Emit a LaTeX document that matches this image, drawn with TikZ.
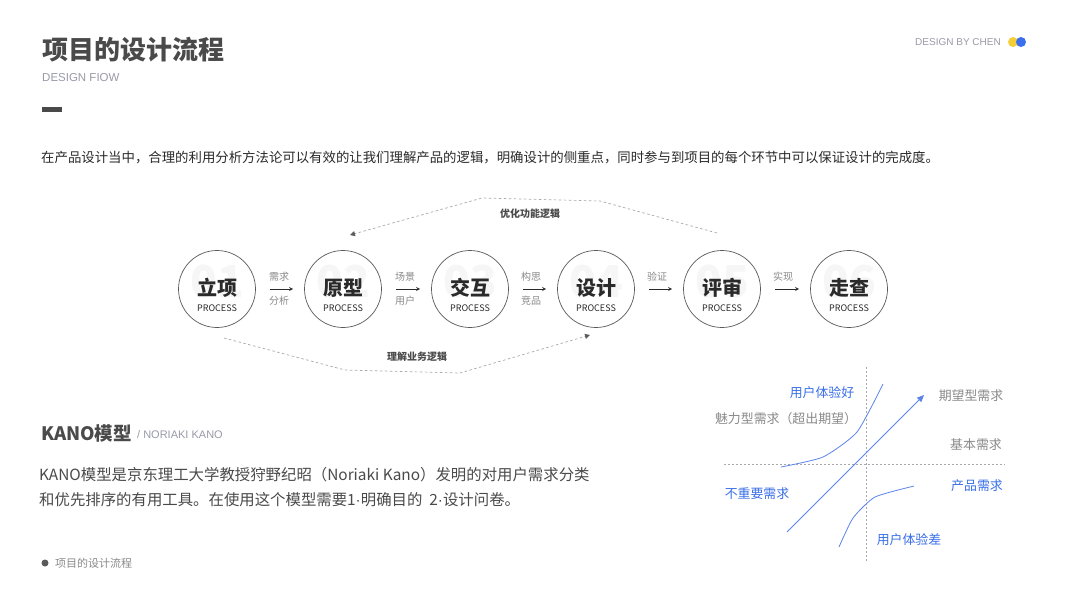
\documentclass[tikz,border=0pt]{standalone}
\usepackage{fontspec}
\setmainfont{Noto Sans CJK SC}
\newfontfamily\latinfont{Liberation Sans}
\usetikzlibrary{arrows.meta}

\definecolor{inkDark}{HTML}{2A2A2A}
\definecolor{inkMid}{HTML}{4A4A4A}
\definecolor{labelGray}{HTML}{8A8A8A}
\definecolor{lightGray}{HTML}{9A9AA8}
\definecolor{ringGray}{HTML}{5A5A5A}
\definecolor{dashGray}{HTML}{A8A8AE}
\definecolor{kanoBlue}{HTML}{3A6FE8}
\definecolor{lineBlue}{HTML}{5A84EA}
\definecolor{dotYellow}{HTML}{F5CF3A}
\definecolor{dotBlue}{HTML}{3B6FF0}

\newcommand{\fsz}[1]{\fontsize{#1}{#1}\selectfont}
\newcommand{\latdot}{{\latinfont\textperiodcentered}}

\begin{document}
\begin{tikzpicture}[
    x=1pt, y=-1pt,
    >=stealth,
    % styles for the process row
    stage/.style={circle, draw=ringGray, line width=0.7pt, minimum size=77pt, inner sep=0pt},
    stageNum/.style={font=\fsz{44}\bfseries, text=gray!7, inner sep=0pt},
    stageName/.style={font=\fsz{20}\bfseries, text=inkDark, inner sep=0pt},
    stageSub/.style={font=\fsz{9}, text=inkDark, inner sep=0pt},
    flowLabel/.style={font=\fsz{10}, text=labelGray, inner sep=0pt},
    loopLabel/.style={font=\fsz{10}\bfseries, text=inkMid, inner sep=0pt},
    % styles for the kano chart
    grayLabel/.style={font=\fsz{12.9}, text=labelGray, inner sep=0pt},
    blueLabel/.style={font=\fsz{12.9}, text=kanoBlue, inner sep=0pt}
]

    \useasboundingbox (0,0) rectangle (1067,600);
    \fill[white] (0,0) rectangle (1067,600);

    % --- HEADER ---
    \node[anchor=west, font=\fsz{26}\bfseries, text=inkMid, inner sep=0pt] (title) at (42,50) {项目的设计流程};
    \node[anchor=west, font=\latinfont\fsz{11.5}, text=lightGray, inner sep=0pt] (subtitle) at (42,78) {DESIGN FIOW};
    \fill[inkMid] (42,107) rectangle (62,112);

    \node[anchor=east, font=\latinfont\fsz{10}, text=lightGray, inner sep=0pt] (byline) at (1001,42) {DESIGN BY CHEN};
    \fill[dotYellow] (1013,42) circle (5);
    \fill[dotBlue] (1021,42) circle (5);

    \node[anchor=west, font=\fsz{13.4}, text=inkDark, inner sep=0pt] (intro) at (41,158)
        {在产品设计当中，合理的利用分析方法论可以有效的让我们理解产品的逻辑，明确设计的侧重点，同时参与到项目的每个环节中可以保证设计的完成度。};

    % --- PROCESS ROW ---
    \node[stageNum] (n1) at (217,282) {01};
    \node[stageNum] (n2) at (343,282) {02};
    \node[stageNum] (n3) at (470,282) {03};
    \node[stageNum] (n4) at (596,282) {04};
    \node[stageNum] (n5) at (722,282) {05};
    \node[stageNum] (n6) at (849,282) {06};

    \node[stage] (s1) at (217,289) {};
    \node[stage] (s2) at (343,289) {};
    \node[stage] (s3) at (470,289) {};
    \node[stage] (s4) at (596,289) {};
    \node[stage] (s5) at (722,289) {};
    \node[stage] (s6) at (849,289) {};

    \node[stageName] (t1) at (217,288) {立项};
    \node[stageName] (t2) at (343,288) {原型};
    \node[stageName] (t3) at (470,288) {交互};
    \node[stageName] (t4) at (596,288) {设计};
    \node[stageName] (t5) at (722,288) {评审};
    \node[stageName] (t6) at (849,288) {走查};

    \node[stageSub] (p1) at (217,308) {PROCESS};
    \node[stageSub] (p2) at (343,308) {PROCESS};
    \node[stageSub] (p3) at (470,308) {PROCESS};
    \node[stageSub] (p4) at (596,308) {PROCESS};
    \node[stageSub] (p5) at (722,308) {PROCESS};
    \node[stageSub] (p6) at (849,308) {PROCESS};

    % arrows between the stages
    \coordinate (a1) at ([xshift=14pt]s1.east);  \coordinate (b1) at ([xshift=-11pt]s2.west);
    \coordinate (a2) at ([xshift=14pt]s2.east);  \coordinate (b2) at ([xshift=-11pt]s3.west);
    \coordinate (a3) at ([xshift=14pt]s3.east);  \coordinate (b3) at ([xshift=-11pt]s4.west);
    \coordinate (a4) at ([xshift=14pt]s4.east);  \coordinate (b4) at ([xshift=-11pt]s5.west);
    \coordinate (a5) at ([xshift=14pt]s5.east);  \coordinate (b5) at ([xshift=-11pt]s6.west);
    \draw[->, inkDark, line width=0.8pt] (a1) -- (b1);
    \draw[->, inkDark, line width=0.8pt] (a2) -- (b2);
    \draw[->, inkDark, line width=0.8pt] (a3) -- (b3);
    \draw[->, inkDark, line width=0.8pt] (a4) -- (b4);
    \draw[->, inkDark, line width=0.8pt] (a5) -- (b5);

    \node[flowLabel] (u1) at (279,277) {需求};  \node[flowLabel] (d1) at (279,301) {分析};
    \node[flowLabel] (u2) at (405,277) {场景};  \node[flowLabel] (d2) at (405,301) {用户};
    \node[flowLabel] (u3) at (531,277) {构思};  \node[flowLabel] (d3) at (531,301) {竞品};
    \node[flowLabel] (u4) at (657,277) {验证};
    \node[flowLabel] (u5) at (783,277) {实现};

    % --- LOOPS ---
    \coordinate (topStart) at (717,233);
    \coordinate (topRight) at (600,201);
    \coordinate (topLeft) at (482,198);
    \coordinate (topEnd) at (350,235);
    \draw[dashGray, line width=0.7pt, dash pattern=on 2.5pt off 2.5pt,
          -{Triangle[length=5pt, width=5pt, color=ringGray, fill=ringGray]}]
        (topStart) -- (topRight) -- (topLeft) -- (topEnd);
    \node[loopLabel] (optLabel) at (530,214) {优化功能逻辑};

    \coordinate (botStart) at (224,338);
    \coordinate (botLeft) at (345,370);
    \coordinate (botRight) at (460,373);
    \coordinate (botEnd) at (590,335);
    \draw[dashGray, line width=0.7pt, dash pattern=on 2.5pt off 2.5pt,
          -{Triangle[length=5pt, width=5pt, color=ringGray, fill=ringGray]}]
        (botStart) -- (botLeft) -- (botRight) -- (botEnd);
    \node[loopLabel] (bizLabel) at (417,357) {理解业务逻辑};

    % --- KANO TEXT ---
    \node[anchor=west, font=\fsz{18.5}\bfseries, text=inkMid, inner sep=0pt] (kanoHead) at (41,433) {KANO模型};
    \node[anchor=west, font=\latinfont\fsz{11}, text=lightGray, inner sep=0pt] (kanoSub) at (137,435) {/ NORIAKI KANO};
    \node[anchor=west, font=\fsz{15.4}, text=inkMid, inner sep=0pt] (kanoL1) at (39,475)
        {KANO模型是京东理工大学教授狩野纪昭（Noriaki Kano）发明的对用户需求分类};
    \node[anchor=west, font=\fsz{15.4}, text=inkMid, inner sep=0pt] (kanoL2) at (39,500)
        {和优先排序的有用工具。在使用这个模型需要1\latdot 明确目的\ \ 2\latdot 设计问卷。};

    \fill[ringGray] (45,563) circle (3.5);
    \node[anchor=west, font=\fsz{11}, text=labelGray, inner sep=0pt] (footer) at (55,563) {项目的设计流程};

    % --- KANO CHART ---
    \coordinate (axisTop) at (866,367);
    \coordinate (axisBot) at (866,562);
    \coordinate (axisLeft) at (724,464);
    \coordinate (axisRight) at (1005,464);
    \draw[dashGray, line width=0.7pt, dash pattern=on 2pt off 2pt] (axisTop) -- (axisBot);
    \draw[dashGray, line width=0.7pt, dash pattern=on 2pt off 2pt] (axisLeft) -- (axisRight);

    \coordinate (trendStart) at (787,532);
    \coordinate (trendEnd) at (924,395);
    \draw[lineBlue, line width=0.8pt, -{Triangle[length=7pt, width=6pt]}] (trendStart) -- (trendEnd);

    \draw[lineBlue, line width=0.8pt] plot[smooth, tension=0.35]
        coordinates {(781,467) (823,457) (857,432) (883,384)};
    \draw[lineBlue, line width=0.8pt] plot[smooth, tension=0.35]
        coordinates {(839,547) (853,518) (875,497) (914,486)};

    \node[blueLabel] (goodExp) at (822,393) {用户体验好};
    \node[grayLabel] (charm) at (786,419) {魅力型需求（超出期望）};
    \node[grayLabel] (expect) at (971,396) {期望型需求};
    \node[grayLabel] (basic) at (976,445) {基本需求};
    \node[blueLabel] (minor) at (757,494) {不重要需求};
    \node[blueLabel] (product) at (977,486) {产品需求};
    \node[blueLabel] (badExp) at (909,540) {用户体验差};

\end{tikzpicture}
\end{document}
